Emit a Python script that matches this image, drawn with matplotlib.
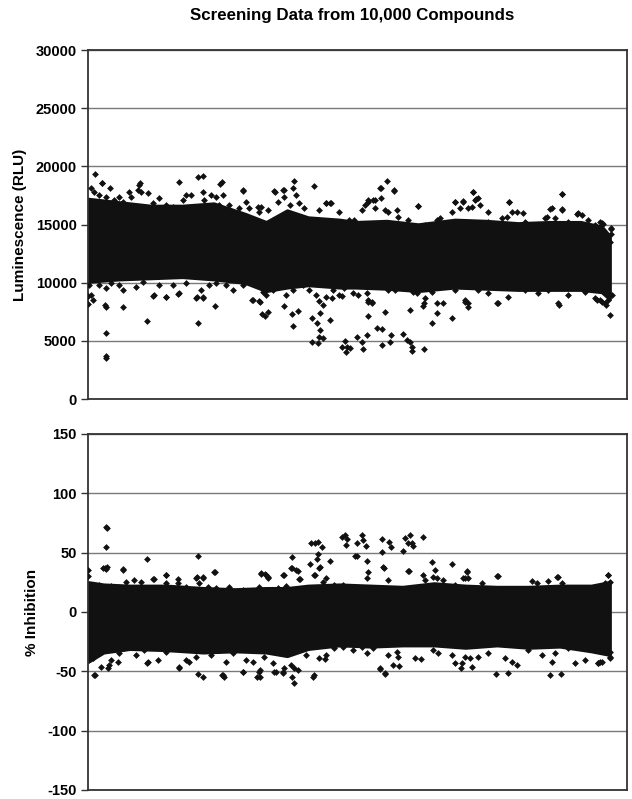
import matplotlib
matplotlib.use("Agg")
import matplotlib.pyplot as plt

plt.rcParams["font.family"] = ["Liberation Sans", "DejaVu Sans"]
plt.rcParams["axes.unicode_minus"] = False

TITLE = "Screening Data from 10,000 Compounds"
N_COMPOUNDS = 10280  # x span of the plot (compound index)

# Dense core of the luminescence cloud (upper / lower edge at compound index)
lum_idx = [0, 600, 1200, 1800, 2400, 3000, 3400, 3800, 4200, 4800, 5100, 5700,
           6300, 7000, 7600, 8200, 8800, 9400, 9800, 9950]
lum_upper = [17200, 16900, 16600, 16600, 16800, 15900, 15200, 16200, 15600,
             15400, 15200, 15300, 15000, 15400, 15300, 15100, 15200, 15200,
             14800, 14000]
lum_lower = [10100, 10300, 10400, 10500, 10300, 10000, 9300, 9600, 9800,
             9600, 9600, 9500, 9300, 9600, 9500, 9400, 9400, 9400, 9200, 8600]

# Scattered luminescence points around the core
lum_fringe_idx = [
    57, 121, 267, 420, 216, 343, 502, 598, 661, 776,
    820, 947, 979, 1011, 1138, 1233, 1361, 1488, 1615, 1806,
    1869, 1964, 2187, 2219, 2346, 2441, 2505, 2568, 2695, 2886,
    2950, 3013, 3077, 3236, 3299, 3268, 3427, 3554, 3617, 3713,
    3744, 3852, 3903, 3967, 4030, 4126, 4412, 4539, 4634, 4793,
    4984, 5079,
    26, 57, 89, 216, 343, 439, 598, 661, 916, 1043,
    1265, 1361, 1488, 1615, 1742, 1869, 2060, 2155, 2187, 2314,
    2441, 2632, 2759, 2950, 3141, 3268, 3331, 3395, 3522, 3713,
    3776, 3903, 4094, 4221, 4348, 4412, 4539, 4666, 4793, 4889,
    5048,
    5219, 5283, 5334, 5442, 5473, 5569, 5588, 5664, 5728, 5842,
    5887, 5918, 6109, 6287, 6427, 6649, 6713, 6936, 6999, 7094,
    7158, 7253, 7317, 7349, 7380, 7444, 7476, 7635, 7635, 7889,
    7984, 8029, 8080, 8175, 8302, 8334, 8525, 8715, 8747, 8843,
    8906, 9033, 9033, 9160, 9319, 9415, 9542, 9669, 9765, 9828,
    9974, 9974, 9955,
    5124, 5156, 5314, 5346, 5410, 5728, 5855, 6204, 6268, 6427,
    6554, 6649, 6777, 6999, 7190, 7253, 7444, 7635, 7825, 8016,
    8334, 8588, 8779, 8970, 9160, 9478, 9669, 9765, 9860, 9923,
    9987]
lum_fringe_val = [
    18110, 17820, 18540, 18170, 17540, 17390, 17110, 17390, 16960, 17820,
    17390, 17970, 18400, 17820, 17680, 16820, 17310, 16680, 16530, 17110,
    17540, 17540, 17820, 17110, 17540, 17390, 16680, 17540, 16680, 16390,
    17970, 16960, 16390, 16530, 16530, 16100, 16250, 17880, 16960, 17970,
    17390, 16680, 18110, 17540, 16820, 16390, 16250, 16820, 16820, 16100,
    15390, 15390,
    9800, 8940, 8510, 9800, 9510, 9944, 9800, 9370, 9660, 10090,
    8940, 9800, 8800, 9800, 9080, 9944, 8650, 9370, 8650, 9800,
    9944, 9800, 9370, 9800, 8510, 8430, 9230, 8940, 9370, 9944,
    8940, 9370, 9800, 9370, 8940, 8430, 8800, 9370, 8940, 9510,
    9080,
    16250, 16680, 17110, 17110, 16390, 18110, 17250, 16250, 16100, 17970,
    16250, 15670, 15390, 16620, 14960, 15390, 15530, 16100, 16960, 16390,
    16960, 16390, 16530, 17820, 17110, 17250, 16680, 16050, 15240, 15530,
    15670, 16960, 16050, 16050, 15960, 15240, 14670, 15530, 15670, 16390,
    15590, 17590, 16300, 15240, 15880, 15820, 15390, 14960, 15240, 15010,
    14670, 14155, 13525,
    9800, 8940, 9080, 8510, 8310, 9370, 9370, 9230, 9080, 8650,
    9230, 8220, 8220, 9370, 8510, 8220, 9370, 9080, 8220, 8800,
    9370, 9080, 9370, 8220, 8940, 9230, 8650, 8510, 8220, 8510,
    8940]

# Isolated luminescence outliers
lum_out_idx = [
    133, 337, 343, 350, 337, 330, 6, 6, 674, 1131,
    1246, 1481, 1722, 2104, 2080, 2199, 2422, 3122, 3280, 3312,
    3375, 3439, 3744, 3896, 4011, 3909, 4266, 4361, 4431, 4418,
    4400, 4266, 4392, 4487, 4615, 4487, 4838, 4920, 4933, 4900,
    4650, 4838,
    4996, 5124, 5220, 5238, 5315, 5346, 5346, 5410, 5505, 5613,
    5613, 5664, 5778, 5759, 6013, 6077, 6140, 6172, 6185, 6407,
    6140, 6382, 6407, 6554, 6650, 6935, 7190, 7253, 7794, 8988,
    9700, 9800, 9880, 9955,
    2104, 2199, 1735, 2549, 2517, 2962, 3566, 3738, 3929, 4316,
    992, 261, 4550, 4610, 5696, 5582, 5841, 5470, 5346, 6287,
    7348, 7399, 7010, 7150, 8035, 9045, 8820, 9045, 9340, 9810,
    9980]
lum_out_val = [
    19340, 5700, 3520, 3700, 7930, 8100, 8170, 8850, 7880, 6730,
    8880, 8740, 9020, 6500, 8800, 8800, 7990, 8510, 8360, 7300,
    7160, 7500, 8030, 7300, 7590, 6270, 6940, 6500, 7370, 5930,
    5360, 4930, 4790, 5220, 6790, 8080, 4440, 4010, 4440, 5010,
    8660, 8850,
    4360, 5360, 4930, 4300, 5500, 7130, 8360, 8220, 6080, 6020,
    4640, 7500, 5500, 4870, 5590, 5070, 4930, 4500, 4130, 4270,
    7650, 7990, 8220, 6560, 7370, 6940, 8360, 7880, 8220, 8080,
    8500, 8300, 8100, 7220,
    19060, 19170, 18630, 18630, 18450, 17910, 17820, 17970, 18770, 18310,
    18540, 18540, 16880, 16880, 18740, 18160, 17910, 17110, 16960, 16620,
    17760, 17170, 16960, 17020, 16960, 17600, 16360, 16250, 16020, 15150,
    14590]

# Dense core of the % inhibition cloud
inh_idx = [0, 300, 800, 1500, 2200, 2800, 3400, 3800, 4200, 4800, 5400, 6000,
           6600, 7200, 7800, 8400, 9000, 9600, 9950]
inh_upper = [25, 23, 22, 22, 20, 19, 20, 20, 22, 23, 22, 21, 24, 22, 21, 21, 22,
             22, 25]
inh_lower = [-42, -34, -31, -32, -34, -33, -34, -37, -31, -28, -29, -28, -28,
             -30, -28, -30, -29, -33, -36]

# Scattered % inhibition points around the core
inh_fringe_idx = [
    280, 343, 674, 216, 439, 725, 884, 1011, 1265, 1488,
    1488, 1710, 1869, 2060, 2187, 2123, 2282, 2409, 2441, 2695,
    2950, 3268, 3299, 3395, 3427, 3617, 3713, 3776, 3871, 3967,
    4030, 4158, 4316, 4412, 4475, 4539, 4698, 4857, 5048,
    89, 121, 248, 407, 439, 598, 693, 916, 1074, 1138,
    1329, 1488, 1742, 1869, 1933, 2060, 2123, 2346, 2505, 2568,
    2632, 2759, 2950, 3013, 3141, 3268, 3363, 3522, 3586, 3713,
    3776, 3871, 3935, 4030, 4158, 4316, 4412, 4539, 4698, 4857,
    5048,
    5346, 5314, 5651, 5728, 6109, 6395, 6427, 6586, 6649, 6777,
    6999, 7158, 7222, 7253, 7508, 7813, 8016, 8461, 8556, 8779,
    8957, 9033, 9224, 9478, 9669, 9860, 9923, 9955,
    5156, 5219, 5314, 5442, 5569, 5664, 5728, 5823, 5887, 5918,
    6236, 6586, 6681, 6936, 6999, 7126, 7190, 7317, 7285, 7444,
    7635, 7953, 8003, 8080, 8175, 8398, 8652, 8843, 8906, 9021,
    9160, 9288, 9478, 9542, 9733, 9796, 9828, 9955, 9955]
inh_fringe_val = [
    36.8, 36.2, 35.4, 22.8, 22.2, 25.6, 27, 25.6, 27.8, 31.2,
    24.2, 24.2, 21.3, 28.4, 28.4, 24.2, 21.3, 34, 19.9, 21.3,
    18.5, 21.3, 32.6, 31.2, 28.4, 19.9, 31.2, 22.2, 36.8, 35.4,
    27.8, 19.9, 31.2, 37.4, 25.6, 28.4, 22.8, 22.8, 19.9,
    -39, -53.1, -46, -44.6, -40.4, -34.8, -30.6, -36.2, -32, -41.8,
    -40.4, -33.4, -46, -40.4, -41.8, -37.6, -32, -36.2, -32, -53.1,
    -41.8, -34.8, -50.3, -40.4, -41.8, -50.3, -37.6, -43.2, -50.3, -50.3,
    -34.8, -44.6, -47.4, -32, -36.2, -53.1, -39, -36.2, -30.6, -29.2,
    -32,
    33.4, 28.4, 37.4, 27, 34.5, 31.2, 27, 29.8, 28.4, 27,
    22.8, 28.4, 34, 28.9, 24.2, 30.3, 14.3, 26.1, 24.2, 26.1,
    29.8, 24.2, 19.9, 17.1, 21.3, 24.2, 31.2, 25.6,
    -26.4, -29.2, -34.8, -30.6, -47.4, -51.7, -36.2, -44.6, -33.4, -37.6,
    -39, -32, -34.8, -36.2, -43.2, -43.2, -37.6, -46, -39, -37.6,
    -34.8, -39, -51.7, -41.8, -44.6, -32, -36.2, -41.8, -34.8, -52.5,
    -30.6, -43.2, -40.4, -30.6, -43.2, -41.8, -29.2, -33.4, -37.6]

# Isolated % inhibition outliers
inh_out_idx = [
    337, 368, 337, 330, 360, 6, 6, 674, 1131, 1246,
    1481, 1722, 2104, 2080, 2199, 2422, 3300, 3375, 3430, 3744,
    3896, 3884, 4000, 4040, 4227, 4336, 4418, 4260, 4323, 4387,
    4460, 4361, 4393, 4615, 4840, 4902, 4950, 4920, 5099,
    5220, 5250, 5300, 5130, 5130, 5315, 5600, 5746, 5772, 5600,
    5632, 6045, 6140, 6172, 6204, 6109, 6013, 6394, 6127, 6554,
    6617, 6935, 7228, 7196, 7794, 8950, 9920, 9700,
    133, 387, 579, 1131, 1735, 2104, 2199, 2549, 2594, 2962,
    3220, 3283, 3283, 3553, 3726, 3738, 3884, 3934, 4011, 4297,
    4520,
    5570, 5664, 5932, 6350, 7125, 7774, 8805, 9730, 9765, 9960]
inh_out_val = [
    71.9, 70.5, 54.5, 36.8, 37.6, 35.4, 30.3, 36, 44.6, 27.8,
    31.2, 27.8, 47.2, 29.2, 29.2, 34, 31.8, 31.8, 29.2, 31.2,
    46.1, 36.8, 34.8, 27.5, 40.4, 31.2, 37.6, 57.9, 58.4, 58.7,
    55.0, 44.6, 48.9, 43.2, 62.9, 64.9, 61.2, 56.4, 47.2,
    64.9, 60.7, 55.9, 57.9, 47.2, 43.2, 61.5, 59.2, 54.5, 50.3,
    37.6, 62.1, 64.9, 57.9, 55.9, 58.4, 51.6, 63.4, 34.5, 41.9,
    35.4, 40.4, 34.5, 28.9, 30.3, 29.7, 31.2, 20,
    -53.1, -47.4, -41.9, -42.7, -46.9, -52.5, -54.5, -53.1, -54.5, -50.3,
    -54.5, -54.5, -48.9, -50.3, -51.1, -46.9, -54.5, -59.5, -48.9, -54.5,
    -39.6,
    -48.3, -52.5, -45.5, -39.9, -47.4, -52.5, -53.1, -43.2, -41.9, -39]

INK = "#111111"


def draw_panel(ax, idx, upper, lower, pts, ylim, step, ylabel):
    ax.fill_between(idx, lower, upper, color=INK, linewidth=2.5,
                    edgecolor=INK, zorder=2)
    for px, py in pts:
        ax.scatter(px, py, marker="D", s=12, color=INK, linewidths=0, zorder=3)
    ax.set_xlim(0, N_COMPOUNDS)
    ax.set_ylim(*ylim)
    ax.set_yticks(range(ylim[0], ylim[1] + 1, step))
    ax.set_xticks([])
    ax.yaxis.grid(True, color="#7a7a7a", linewidth=1.0, zorder=1)
    ax.set_axisbelow(True)
    for sp in ax.spines.values():
        sp.set_color("#333333")
        sp.set_linewidth(1.3)
    ax.tick_params(axis="y", direction="out", length=5, width=1,
                   color="#333333", labelsize=10.5, pad=3)
    for lab in ax.get_yticklabels():
        lab.set_fontweight("bold")
    ax.set_ylabel(ylabel, fontsize=11, fontweight="bold", labelpad=6)


fig = plt.figure(figsize=(6.32, 7.99), dpi=100)
ax1 = fig.add_axes([0.139, 0.5006, 0.853, 0.4368])
ax2 = fig.add_axes([0.139, 0.0113, 0.853, 0.4456])

draw_panel(ax1, lum_idx, lum_upper, lum_lower,
           [(lum_fringe_idx, lum_fringe_val), (lum_out_idx, lum_out_val)],
           (0, 30000), 5000, "Luminescence (RLU)")
draw_panel(ax2, inh_idx, inh_upper, inh_lower,
           [(inh_fringe_idx, inh_fringe_val), (inh_out_idx, inh_out_val)],
           (-150, 150), 50, "% Inhibition")

fig.text(0.557, 0.981, TITLE, ha="center", va="center", fontsize=12.2,
         fontweight="bold")

fig.savefig("out.png", dpi=100)
